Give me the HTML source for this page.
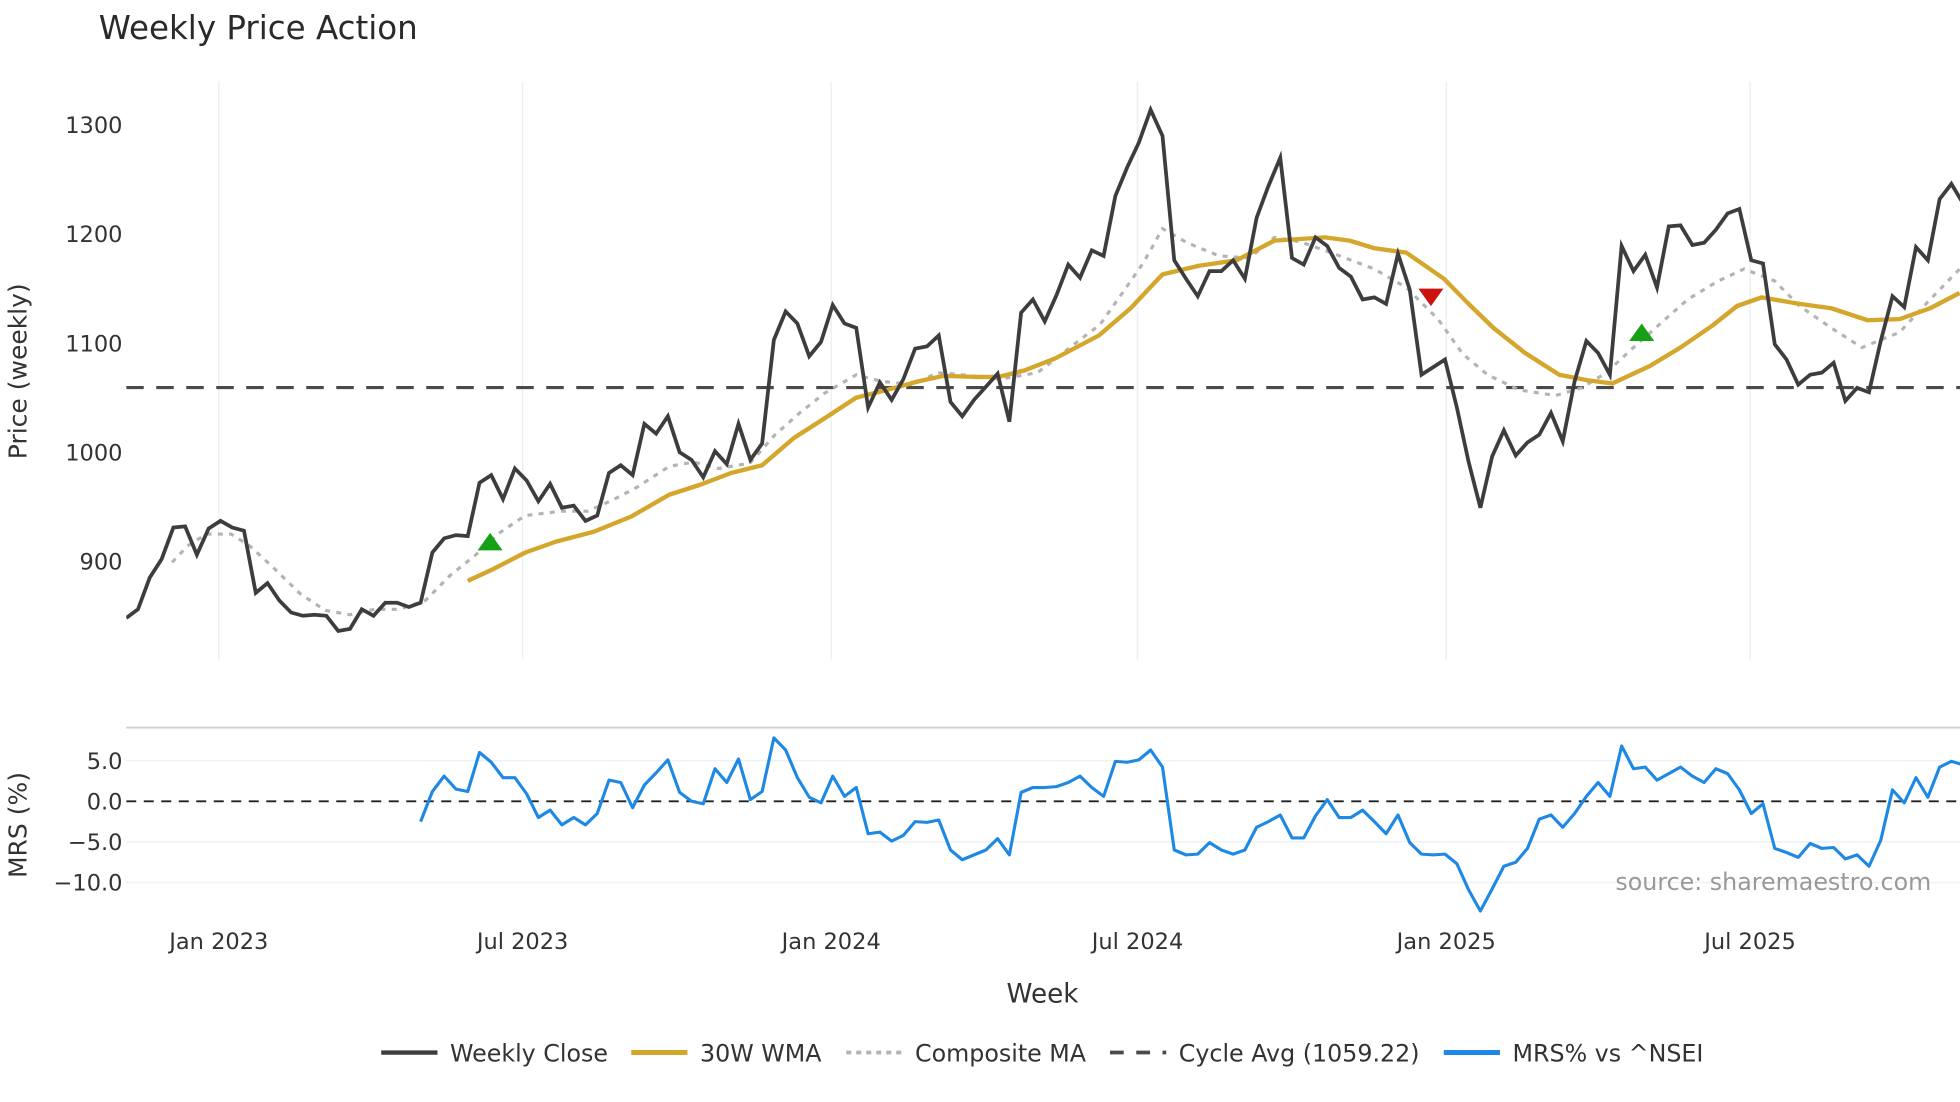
<!DOCTYPE html>
<html><head><meta charset="utf-8"><style>
html,body{margin:0;padding:0;background:#fff;}
svg{display:block;font-family:"DejaVu Sans","Liberation Sans",sans-serif;}
</style></head><body>
<svg id="chart" width="1960" height="1102" viewBox="0 0 1568 881.6" xmlns="http://www.w3.org/2000/svg">
<defs>
<clipPath id="clipTop"><rect x="101" y="60" width="1467" height="475"/></clipPath>
<clipPath id="clipBot"><rect x="101" y="583" width="1467" height="160"/></clipPath>
</defs>
<rect width="1568" height="881.6" fill="#fff"/>
<text x="79" y="31" font-size="26" fill="#2a2a2a">Weekly Price Action</text>
<g id="gridG"></g>
<g id="topSeries" clip-path="url(#clipTop)"></g>
<g id="botSeries" clip-path="url(#clipBot)"></g>
<g id="axesG"></g>
<text transform="translate(21,297) rotate(-90)" text-anchor="middle" font-size="20" fill="#333">Price (weekly)</text>
<text transform="translate(21,660) rotate(-90)" text-anchor="middle" font-size="20" fill="#333">MRS (%)</text>
<text x="834" y="802" text-anchor="middle" font-size="21" fill="#333">Week</text>
<text x="1545" y="712" text-anchor="end" font-size="19" fill="#999">source: sharemaestro.com</text>
<g id="legendG"></g>
</svg>
<script>
// ---- data ----
const closeVals = [848,856,885,902,931,932,906,930,937,931,928,871,880,864,853,850,851,850,836,838,856,850,862,862,858,862,908,921,924,923,972,979,957,985,974,955,971,949,951,937,942,981,988,979,1026,1017,1033,1000,993,977,1001,989,1026,993,1008,1103,1129,1118,1088,1101,1135,1118,1114,1041,1064,1048,1067,1095,1097,1107,1046,1033,1048,1060,1072,1028,1128,1140,1120,1144,1172,1160,1185,1180,1235,1261,1284,1314,1290,1176,1159,1143,1166,1166,1176,1159,1215,1244,1270,1178,1172,1197,1189,1169,1161,1140,1142,1136,1182,1149,1071,1078,1085,1041,991,949,996,1020,997,1009,1016,1036,1010,1065,1102,1091,1071,1189,1166,1181,1151,1207,1208,1190,1192,1204,1219,1223,1176,1173,1099,1085,1062,1071,1073,1082,1047,1059,1055,1102,1143,1133,1188,1176,1232,1246,1228];
const wmaWeeks = [29,31.2,33.9,36.5,39.7,42.9,46.1,48.7,51.4,54,56.7,59.3,62,64.6,67.3,69.4,72,74.1,76.3,78.9,82.6,85.3,88,91.1,94.3,97.5,101.8,103.9,106,108.7,111.9,114,116.1,118.8,121.7,124.1,126.2,129.4,132,134.7,136.8,138.9,142.1,144.8,147.9,150.6,153.2,155.7];
const wmaVals = [882,893,908,918,927,941,961,970,981,988,1013,1031,1050,1057,1065,1070,1069,1069,1075,1086,1107,1132,1163,1171,1176,1194,1197,1194,1187,1183,1159,1136,1114,1091,1071,1066,1063,1079,1096,1116,1134,1142,1136,1132,1121,1122,1132,1146];
const compWeeks = [3.9,5.2,6.8,8.9,10.5,12.6,14.8,16.9,19,21.1,23.2,25.4,27.5,29.6,31.7,33.9,37,39.2,41.3,43.4,46.1,48.2,50.3,52.97,55.1,57.2,59.3,62,64.1,66.8,68.9,71,74.2,77.4,80.5,82.7,84.8,86.4,88,90.1,92.8,95.4,97.5,99.7,102.8,106,108.7,111.4,113.5,115.6,118.3,121.4,123.6,125.7,127.8,130.4,132.6,135.2,137.4,140,142.1,144.8,147.4,150.6,153.2,155.7];
const compVals = [899,914,925,925,914,893,870,855,851,856,856,864,887,905,926,942,946,946,956,968,987,991,985,990,1016,1036,1054,1071,1065,1062,1073,1071,1067,1073,1099,1117,1149,1174,1205,1192,1180,1178,1197,1193,1181,1168,1151,1122,1090,1071,1057,1052,1059,1073,1094,1119,1140,1157,1168,1157,1134,1114,1096,1110,1140,1168];
const cycleAvg = 1059.22;
const mrsStart = 25;
const mrsVals = [-2.5,1.2,3.1,1.5,1.2,6.0,4.8,2.9,2.9,0.9,-2.0,-1.1,-2.9,-2.0,-2.9,-1.5,2.6,2.3,-0.8,2.0,3.5,5.1,1.1,0,-0.3,4.0,2.3,5.2,0.2,1.2,7.8,6.3,2.9,0.5,-0.2,3.1,0.6,1.7,-4.0,-3.8,-4.9,-4.2,-2.5,-2.6,-2.3,-6.0,-7.2,-6.6,-6.0,-4.6,-6.6,1.1,1.7,1.7,1.8,2.3,3.1,1.7,0.6,4.9,4.8,5.1,6.3,4.2,-6.0,-6.6,-6.5,-5.1,-6.0,-6.5,-6.0,-3.2,-2.5,-1.7,-4.5,-4.5,-1.8,0.2,-2.0,-2.0,-1.1,-2.5,-4.0,-1.7,-5.1,-6.5,-6.6,-6.5,-7.7,-10.9,-13.5,-10.8,-8.0,-7.5,-5.8,-2.2,-1.7,-3.2,-1.5,0.6,2.3,0.6,6.8,4.0,4.2,2.6,3.4,4.2,3.1,2.3,4.0,3.4,1.4,-1.5,-0.3,-5.8,-6.3,-6.9,-5.2,-5.8,-5.7,-7.1,-6.6,-8.0,-4.8,1.4,-0.2,2.9,0.5,4.2,4.9,4.5];
const buyWeeks = [30.9,128.7];
const buyVals = [918,1110];
const sellWeeks = [110.8];
const sellVals = [1142];
const priceTicks = [900,1000,1100,1200,1300];
const mrsTicks = [5,0,-5,-10];
const mrsTickLabels = ["5.0","0.0","\u22125.0","\u221210.0"];
const dateTickWeeks = [7.86,33.66,59.87,85.88,112.1,137.9];
const dateTickLabels = ["Jan 2023","Jul 2023","Jan 2024","Jul 2024","Jan 2025","Jul 2025"];

// ---- scales ----
const X = i => 101 + i * 9.42;
const YP = p => 100 + (1300 - p) * 0.8725;
const YM = v => 641 - v * 6.5;
const NS = "http://www.w3.org/2000/svg";
function mk(tag, attrs, parent) {
  const e = document.createElementNS(NS, tag);
  for (const k in attrs) e.setAttribute(k, attrs[k]);
  parent.appendChild(e);
  return e;
}
const gridG = document.getElementById('gridG');
const axesG = document.getElementById('axesG');
const topG = document.getElementById('topSeries');
const botG = document.getElementById('botSeries');
const legG = document.getElementById('legendG');

dateTickWeeks.forEach((w, k) => {
  const g = mk('line', {x1: X(w), x2: X(w), y1: 65, y2: 528, stroke: '#edf0f3', 'stroke-width': 1.2}, gridG);
  
  
  const t = mk('text', {x: X(w), y: 759, 'text-anchor': 'middle', 'font-size': 18, fill: '#333'}, axesG);
  t.textContent = dateTickLabels[k];
  
  
});
priceTicks.forEach(p => {
  const t = mk('text', {x: 98, y: YP(p) + 6.5, 'text-anchor': 'end', 'font-size': 18, fill: '#333'}, axesG);
  t.textContent = p;
  
  
});
const bl = mk('line', {x1: 101, x2: 1568, y1: 582, y2: 582, stroke: '#cfcfcf', 'stroke-width': 1.5}, gridG);


mrsTicks.forEach((v, k) => {
  if (v !== 0) {
    const g = mk('line', {x1: 101, x2: 1568, y1: YM(v), y2: YM(v), stroke: '#eef1f5', 'stroke-width': 1.2}, gridG);
    
    
  }
  const t = mk('text', {x: 98, y: YM(v) + 6.5, 'text-anchor': 'end', 'font-size': 18, fill: '#333'}, axesG);
  t.textContent = mrsTickLabels[k];
  
  
});
const z = mk('line', {x1: 101, x2: 1568, y1: YM(0), y2: YM(0), stroke: '#222', 'stroke-width': 1.5, 'stroke-dasharray': '8 6'}, botG);



function pathFrom(xs, ys) {
  return xs.map((x, i) => (i ? 'L' : 'M') + x.toFixed(1) + ' ' + ys[i].toFixed(1)).join(' ');
}
const ca = mk('line', {x1: 101, x2: 1568, y1: YP(cycleAvg), y2: YP(cycleAvg), stroke: '#4a4a4a', 'stroke-width': 2.5, 'stroke-dasharray': '14 10'}, topG);


const cm = mk('path', {d: pathFrom(compWeeks.map(X), compVals.map(YP)), fill: 'none', stroke: '#b3b3b3', 'stroke-width': 2.5, 'stroke-dasharray': '4 5'}, topG);


const wm = mk('path', {d: pathFrom(wmaWeeks.map(X), wmaVals.map(YP)), fill: 'none', stroke: '#d4a72c', 'stroke-width': 3.5, 'stroke-linejoin': 'round'}, topG);


const cl = mk('path', {d: pathFrom(closeVals.map((v, i) => X(i)), closeVals.map(YP)), fill: 'none', stroke: '#3d3d3d', 'stroke-width': 3, 'stroke-linejoin': 'miter'}, topG);


buyWeeks.forEach((w, k) => {
  const x = X(w), y = YP(buyVals[k]);
  const m = mk('polygon', {points: `${x-10},${y+7} ${x+10},${y+7} ${x},${y-7}`, fill: '#16a016'}, topG);
  
  
});
sellWeeks.forEach((w, k) => {
  const x = X(w), y = YP(sellVals[k]);
  const m = mk('polygon', {points: `${x-10},${y-7} ${x+10},${y-7} ${x},${y+7}`, fill: '#cc1111'}, topG);
  
  
});
const mr = mk('path', {d: pathFrom(mrsVals.map((v, i) => X(mrsStart + i)), mrsVals.map(YM)), fill: 'none', stroke: '#1e88e5', 'stroke-width': 2.5, 'stroke-linejoin': 'round'}, botG);



const legItems = [
  {x: 305, label: 'Weekly Close', stroke: '#3d3d3d', w: 3.5, dash: ''},
  {x: 505, label: '30W WMA', stroke: '#d4a72c', w: 4, dash: ''},
  {x: 677, label: 'Composite MA', stroke: '#b3b3b3', w: 3, dash: '4 4'},
  {x: 888, label: 'Cycle Avg (1059.22)', stroke: '#4a4a4a', w: 3, dash: '11 10'},
  {x: 1155, label: 'MRS% vs ^NSEI', stroke: '#1e88e5', w: 4, dash: ''}
];
legItems.forEach(it => {
  const g = mk('g', {}, legG);
  
  
  const a = {x1: it.x, x2: it.x + 45, y1: 842, y2: 842, stroke: it.stroke, 'stroke-width': it.w};
  if (it.dash) a['stroke-dasharray'] = it.dash;
  mk('line', a, g);
  const t = mk('text', {x: it.x + 55, y: 849, 'font-size': 19, fill: '#333'}, g);
  t.textContent = it.label;
});
</script>
</body></html>
